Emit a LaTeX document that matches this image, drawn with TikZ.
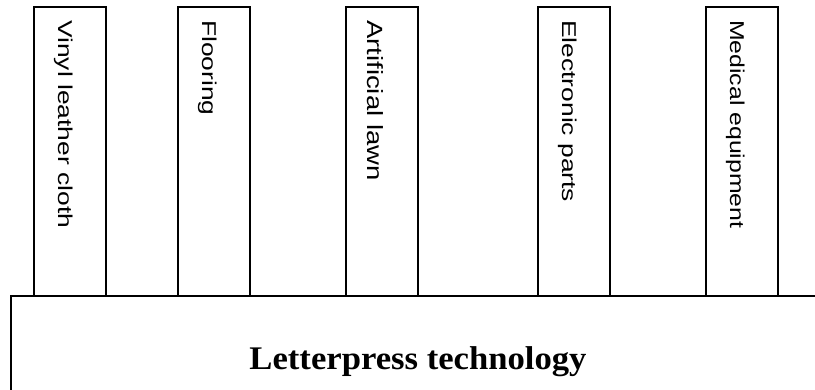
\documentclass[tikz,border=0pt]{standalone}
\usepackage{fontspec}
\setmainfont{Liberation Serif}
\newfontfamily\labfont{Liberation Sans}
\begin{document}
\begin{tikzpicture}[x=1pt,y=-1pt,
  colbox/.style={draw=black,line width=1.3pt},
  base/.style={draw=black,line width=1.6pt},
  vlab/.style={rotate=-90,anchor=base west,inner sep=0pt,font=\labfont\fontsize{20}{24}\selectfont},
  tlab/.style={inner sep=0pt,anchor=base,font=\fontsize{33}{38}\selectfont\bfseries}]
\useasboundingbox (0,0) rectangle (815,389);
\foreach \n/\x/\t/\s/\f/\d in {a/34/Vinyl leather cloth/1.32/20/24, b/178/Flooring/1.32/20/24, c/346/Artificial lawn/1.25/22/21, d/538/Electronic parts/1.32/20/24, e/706/Medical equipment/1.24/20/24}{
  \draw[colbox] (\x,7) rectangle (\x+72,296);
  \node[vlab,font=\labfont\fontsize{\f}{24}\selectfont] (\n) at (\x+\d,20) {\scalebox{\s}[1]{\t}};
}
\draw[base] (830,296) -- (11,296) -- (11,400);
\node[tlab] (main) at (418,369) {\scalebox{1.05}[1]{Letterpress technology}};
\end{tikzpicture}
\end{document}
